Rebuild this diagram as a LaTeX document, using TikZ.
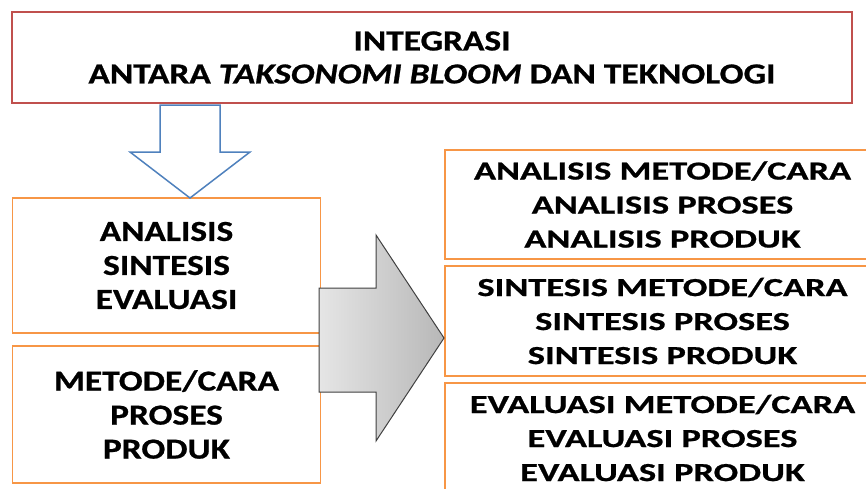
\documentclass[tikz,border=0pt]{standalone}
\usepackage{fontspec}
\setmainfont{Carlito}
\newfontfamily\judulfont[FakeStretch=1.22, FakeBold=0.8]{Carlito}
\newfontfamily\kirifont[FakeStretch=1.22, FakeBold=0.8]{Carlito}
\newfontfamily\kananfont[FakeStretch=1.4, FakeBold=0.8]{Carlito}
\definecolor{merah}{HTML}{C0504D}
\definecolor{oranye}{HTML}{F79646}
\definecolor{biru}{HTML}{4F81BD}

\begin{document}
\begin{tikzpicture}[x=1pt, y=-1pt,
    kotak/.style={draw=oranye, line width=1.8pt, inner sep=0pt, align=center},
    kiri/.style={kotak, minimum width=308pt, font=\kirifont\bfseries\fontsize{29}{34}\selectfont},
    kanan/.style={kotak, minimum width=435pt, minimum height=110pt, font=\kananfont\bfseries\fontsize{26}{34}\selectfont}
  ]
  \useasboundingbox (0,0) rectangle (866,488);
  \clip (0,0) rectangle (866,488);

  % judul
  \node[draw=merah, line width=1.8pt, minimum width=840pt, minimum height=91pt, align=center,
    font=\judulfont\bfseries\fontsize{29}{33}\selectfont] (judul) at (432,57.5)
    {INTEGRASI\\ANTARA \textit{TAKSONOMI BLOOM} DAN TEKNOLOGI};

  % kotak kiri
  \node[kiri, minimum height=135pt] (ranah) at (166.5,265.5) {ANALISIS\\SINTESIS\\EVALUASI};
  \node[kiri, minimum height=137pt] (objek) at (166.5,414.5) {METODE/CARA\\PROSES\\PRODUK};

  % kotak kanan
  \node[kanan, minimum height=109pt] (analisis) at (662.5,204.5) {ANALISIS METODE/CARA\\ANALISIS PROSES\\ANALISIS PRODUK};
  \node[kanan] (sintesis) at (662.5,321) {SINTESIS METODE/CARA\\SINTESIS PROSES\\SINTESIS PRODUK};
  \node[kanan] (evaluasi) at (662.5,438) {EVALUASI METODE/CARA\\EVALUASI PROSES\\EVALUASI PRODUK};

  % panah biru
  \draw[biru, line width=1.5pt, fill=white, line join=miter] (160,105) -- (160,152) -- (130,152) -- (190,198)
    -- (250,152) -- (220,152) -- (220,105) -- cycle;

  % panah abu-abu
  \draw[draw=black!75, line width=1pt, left color=black!10, right color=black!28]
    (319,288) -- (376,288) -- (376,235) -- (444,338) -- (376,441) -- (376,392) -- (319,392) -- cycle;

\end{tikzpicture}
\end{document}
